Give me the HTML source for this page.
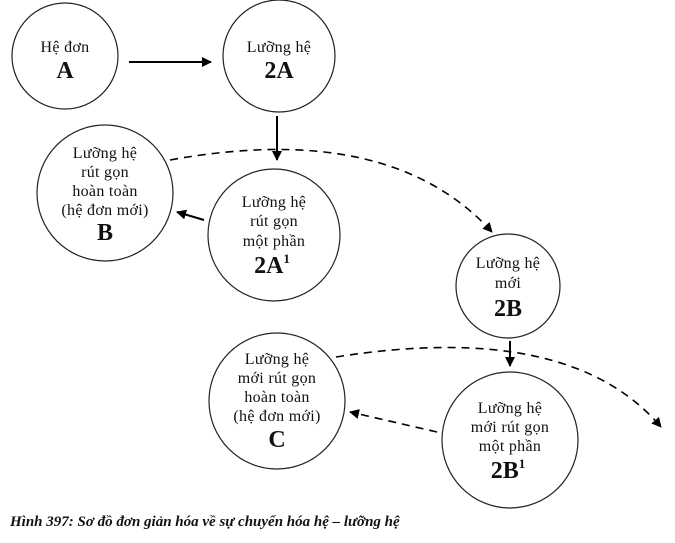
<!DOCTYPE html>
<html><head><meta charset="utf-8"><style>
body{margin:0;background:#fff;width:675px;height:538px;overflow:hidden}
text{font-family:"Liberation Serif",serif;fill:#111;text-anchor:middle}
.s{font-size:16px;letter-spacing:0.3px}.b{font-size:24px;font-weight:bold}
</style></head><body>
<svg width="675" height="538" viewBox="0 0 675 538">
<defs><marker id="m" viewBox="0 0 10 10" refX="9" refY="5" markerWidth="10" markerHeight="10" markerUnits="userSpaceOnUse" orient="auto"><path d="M0,0L10,5L0,10z" fill="#000"/></marker></defs>
<g fill="none" stroke="#222" stroke-width="1.2">
<circle cx="65" cy="56" r="53"/>
<circle cx="279" cy="56" r="56"/>
<circle cx="105" cy="193" r="68"/>
<circle cx="274" cy="235" r="66"/>
<circle cx="508" cy="286" r="52"/>
<circle cx="277" cy="401" r="68"/>
<circle cx="510" cy="440" r="68"/>
</g>
<g stroke="#000" stroke-width="2" fill="none">
<line x1="129" y1="62" x2="211" y2="62" marker-end="url(#m)"/>
<line x1="277" y1="116" x2="277" y2="160" marker-end="url(#m)"/>
<line x1="204" y1="220" x2="177" y2="212" marker-end="url(#m)"/>
<line x1="510" y1="341" x2="510" y2="366" marker-end="url(#m)"/>
</g>
<g stroke="#000" stroke-width="1.6" fill="none" stroke-dasharray="8,6">
<path d="M170,160 Q390,120 492,232" marker-end="url(#m)"/>
<path d="M336,357 Q570,320 661,427" marker-end="url(#m)"/>
<line x1="437" y1="432" x2="350" y2="412" marker-end="url(#m)"/>
</g>
<text class="s" x="65" y="52">Hệ đơn</text><text class="b" x="65" y="78">A</text>
<text class="s" x="279" y="52">Lưỡng hệ</text><text class="b" x="279" y="78">2A</text>
<text class="s" x="105" y="158">Lưỡng hệ</text><text class="s" x="105" y="177">rút gọn</text><text class="s" x="105" y="196">hoàn toàn</text><text class="s" x="105" y="215">(hệ đơn mới)</text><text class="b" x="105" y="240">B</text>
<text class="s" x="274" y="207">Lưỡng hệ</text><text class="s" x="274" y="226">rút gọn</text><text class="s" x="274" y="246">một phần</text><text class="b" x="272" y="273">2A<tspan font-size="13" dy="-10">1</tspan></text>
<text class="s" x="508" y="268">Lưỡng hệ</text><text class="s" x="508" y="288">mới</text><text class="b" x="508" y="316">2B</text>
<text class="s" x="277" y="364">Lưỡng hệ</text><text class="s" x="277" y="383">mới rút gọn</text><text class="s" x="277" y="402">hoàn toàn</text><text class="s" x="277" y="421">(hệ đơn mới)</text><text class="b" x="277" y="447">C</text>
<text class="s" x="510" y="413">Lưỡng hệ</text><text class="s" x="510" y="432">mới rút gọn</text><text class="s" x="510" y="451">một phần</text><text class="b" x="508" y="478">2B<tspan font-size="13" dy="-10">1</tspan></text>
<text x="10" y="526" style="text-anchor:start;font-size:15px;font-style:italic;font-weight:bold">Hình 397: Sơ đồ đơn giản hóa về sự chuyển hóa hệ – lưỡng hệ</text>
</svg>
</body></html>
